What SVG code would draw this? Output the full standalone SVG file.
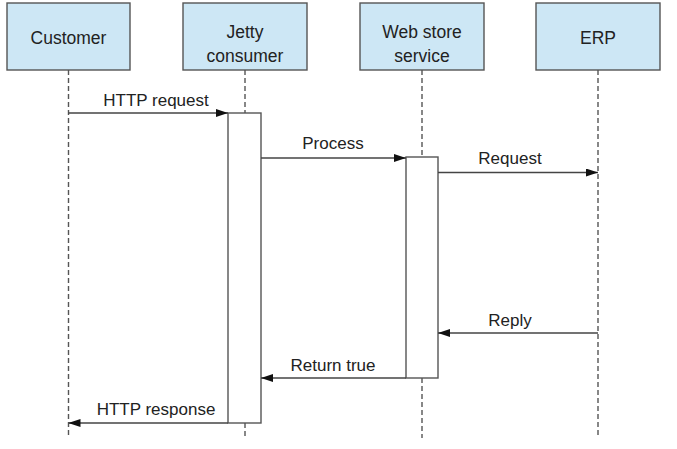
<svg xmlns="http://www.w3.org/2000/svg" width="677" height="449" viewBox="0 0 677 449">
<defs>
<style>
.box{fill:#cde7f5;stroke:#555;stroke-width:1.4}
.act{fill:#fff;stroke:#555;stroke-width:1.4}
.life{stroke:#555;stroke-width:1.4;stroke-dasharray:5 3;fill:none}
.msg{stroke:#444;stroke-width:1.4;fill:none;marker-end:url(#ah)}
text{font-family:"Liberation Sans",Arial,sans-serif;font-size:17px;fill:#222;text-anchor:middle}
.lbl{font-size:17.5px}
</style>
<marker id="ah" viewBox="0 0 12 8" refX="12" refY="4" markerWidth="12" markerHeight="8" markerUnits="userSpaceOnUse" orient="auto">
<path d="M0,0 L12,4 L0,8 Z" fill="#111"/>
</marker>
</defs>
<rect width="677" height="449" fill="#fff"/>
<g id="lifelines">
<line class="life" x1="68.5" y1="70" x2="68.5" y2="438"/>
<line class="life" x1="245" y1="70" x2="245" y2="113"/>
<line class="life" x1="245" y1="423" x2="245" y2="438"/>
<line class="life" x1="422" y1="70" x2="422" y2="157"/>
<line class="life" x1="422" y1="378" x2="422" y2="438"/>
<line class="life" x1="598" y1="70" x2="598" y2="438"/>
</g>
<g id="customer">
<rect class="box" x="7" y="3" width="123" height="67"/>
<text class="lbl" x="68.5" y="44">Customer</text>
</g>
<g id="jetty">
<rect class="box" x="183" y="3" width="124" height="67"/>
<text class="lbl" x="245" y="38">Jetty</text>
<text class="lbl" x="245" y="62">consumer</text>
</g>
<g id="webstore">
<rect class="box" x="360" y="3" width="124" height="67"/>
<text class="lbl" x="422" y="38">Web store</text>
<text class="lbl" x="422" y="62">service</text>
</g>
<g id="erp">
<rect class="box" x="536" y="3" width="124" height="67"/>
<text class="lbl" x="598" y="44">ERP</text>
</g>
<g id="jetty-activation">
<rect class="act" x="228" y="113" width="33" height="310"/>
</g>
<g id="webstore-activation">
<rect class="act" x="406" y="157" width="32" height="221"/>
</g>
<g id="connectors">
<line class="msg" x1="68.5" y1="113" x2="228" y2="113"/>
<text x="156" y="106">HTTP request</text>
<line class="msg" x1="261" y1="158" x2="406" y2="158"/>
<text x="333" y="149">Process</text>
<line class="msg" x1="438" y1="172.5" x2="598" y2="172.5"/>
<text x="510" y="164">Request</text>
<line class="msg" x1="598" y1="333" x2="438" y2="333"/>
<text x="510" y="326">Reply</text>
<line class="msg" x1="406" y1="378" x2="261" y2="378"/>
<text x="333" y="371">Return true</text>
<line class="msg" x1="228" y1="423" x2="68.5" y2="423"/>
<text x="156" y="415">HTTP response</text>
</g>
</svg>
